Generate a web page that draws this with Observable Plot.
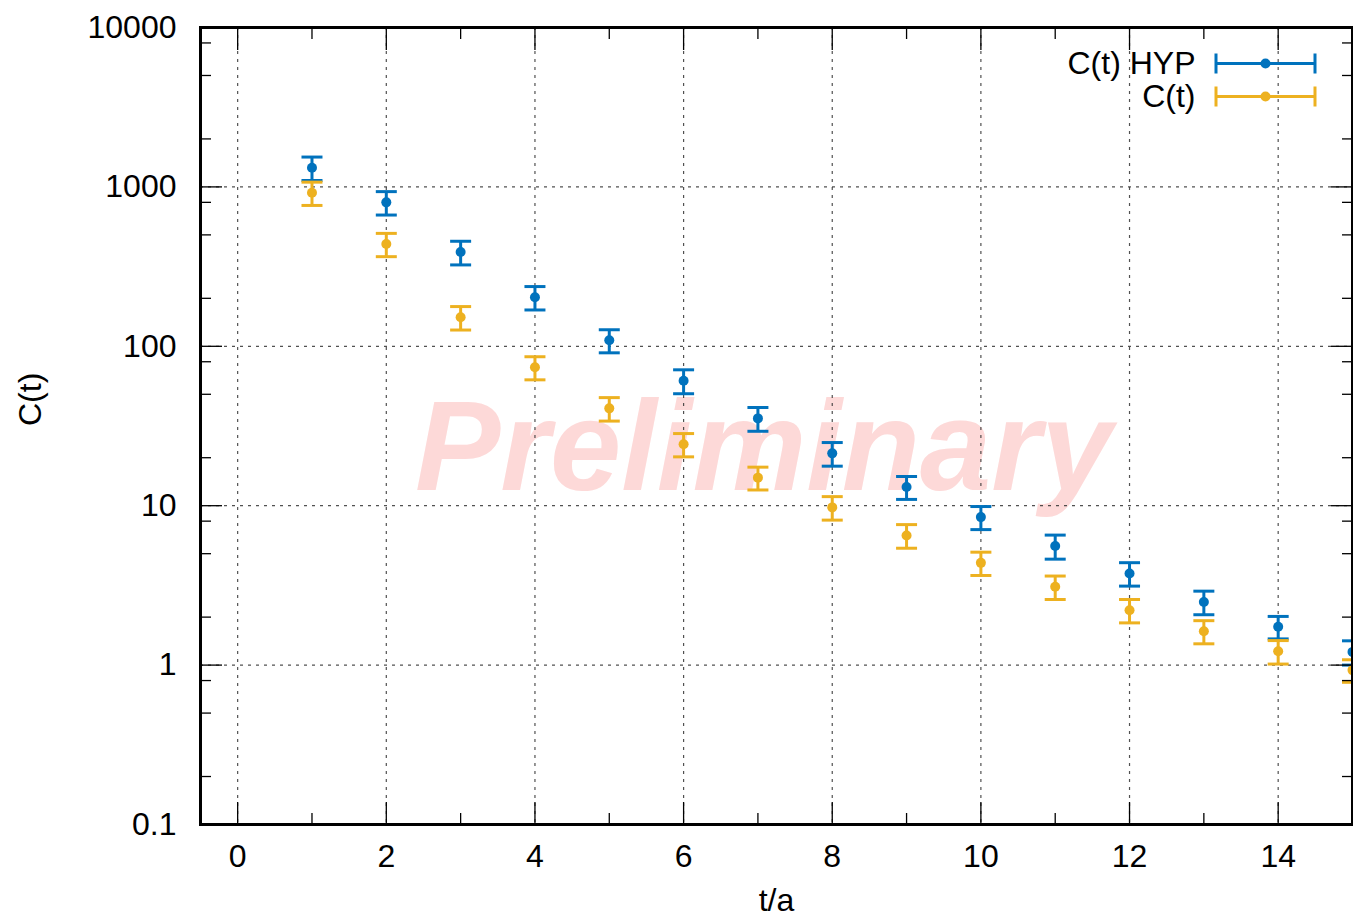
<!DOCTYPE html>
<html>
<head>
<meta charset="utf-8">
<script src="https://cdn.jsdelivr.net/npm/d3@7"></script>
<script src="https://cdn.jsdelivr.net/npm/@observablehq/plot@0.6"></script>
<style>
  body { margin: 0; background: #fff; }
  #chart svg { display: block; }
</style>
</head>
<body>
<div id="chart"></div>
<script>
// ---- data ----
const tValues = [1, 2, 3, 4, 5, 6, 7, 8, 9, 10, 11, 12, 13, 14, 15];
const hypValues = [1318, 800, 390, 203, 109, 60.8, 35.3, 21.3, 13.1, 8.48, 5.58, 3.76, 2.49, 1.74, 1.21];
const hypErrors = [221, 134, 66, 34, 18, 10.4, 6.0, 3.6, 2.15, 1.4, 0.96, 0.63, 0.42, 0.28, 0.21];
const plainValues = [918, 438, 152, 73.8, 40.8, 24.3, 15.0, 9.76, 6.51, 4.38, 3.10, 2.21, 1.63, 1.22, 0.93];
const plainErrors = [153, 73, 25.5, 12.2, 6.85, 4.05, 2.45, 1.64, 1.1, 0.73, 0.52, 0.37, 0.27, 0.205, 0.15];
const seriesNames = ["C(t) HYP", "C(t)"];
const seriesColors = ["#0072bd", "#edb120"];
const xTickValues = [0, 2, 4, 6, 8, 10, 12, 14];
const xMinorTickValues = [1, 3, 5, 7, 9, 11, 13];
const yTickValues = [0.1, 1, 10, 100, 1000, 10000];
const yTickLabels = ["0.1", "1", "10", "100", "1000", "10000"];
const yMinorFactors = [2, 5, 8];
const xLabel = "t/a";
const yLabel = "C(t)";
const watermark = "Preliminary";

// ---- derived tables ----
const seriesValues = [hypValues, plainValues];
const seriesErrors = [hypErrors, plainErrors];
const tables = seriesNames.map((name, s) => tValues.map((t, i) => ({
  series: name,
  t,
  v: seriesValues[s][i],
  lo: seriesValues[s][i] - seriesErrors[s][i],
  hi: seriesValues[s][i] + seriesErrors[s][i]
})));
const yMinorTickValues = yTickValues.slice(0, -1).flatMap(d => yMinorFactors.map(f => +(d * f).toPrecision(6)));

const FONT = "'Liberation Sans', Arial, Helvetica, sans-serif";
const FS = 32;
const capSymbol = { draw(ctx) { ctx.moveTo(-10.5, 0); ctx.lineTo(10.5, 0); } };
const legendSymbol = { draw(ctx) {
  ctx.moveTo(-49.5, 0); ctx.lineTo(49.5, 0);
  ctx.moveTo(-49.5, -10); ctx.lineTo(-49.5, 10);
  ctx.moveTo(49.5, -10); ctx.lineTo(49.5, 10);
} };

const seriesMarks = tables.flatMap((rows, s) => [
  Plot.ruleX(rows, { x: "t", y1: "lo", y2: "hi", stroke: seriesColors[s], strokeWidth: 3, clip: "frame" }),
  Plot.dot(rows, { x: "t", y: "hi", symbol: capSymbol, fill: "none", stroke: seriesColors[s], strokeWidth: 3, clip: "frame" }),
  Plot.dot(rows, { x: "t", y: "lo", symbol: capSymbol, fill: "none", stroke: seriesColors[s], strokeWidth: 3, clip: "frame" }),
  Plot.dot(rows, { x: "t", y: "v", r: 5, fill: seriesColors[s], stroke: "none", clip: "frame" })
]);

const legendMarks = seriesNames.flatMap((name, s) => [
  Plot.text([name], { text: d => d, frameAnchor: "top-right", dx: -157, dy: 36 + s * 33, textAnchor: "end", lineAnchor: "middle", fontSize: FS, fill: "black" }),
  Plot.dot([name], { frameAnchor: "top-right", dx: -87, dy: 36 + s * 33, symbol: legendSymbol, fill: "none", stroke: seriesColors[s], strokeWidth: 3 }),
  Plot.dot([name], { frameAnchor: "top-right", dx: -87, dy: 36 + s * 33, r: 5, fill: seriesColors[s], stroke: "none" })
]);

const chart = Plot.plot({
  width: 1353,
  height: 920,
  marginLeft: 200,
  marginRight: 1,
  marginTop: 27,
  marginBottom: 96,
  style: { fontFamily: FONT, fontSize: FS + "px", color: "black", background: "white" },
  x: { domain: [-0.5, 15] },
  y: { type: "log", domain: [0.1, 10000] },
  marks: [
    Plot.text([watermark], { text: d => d, frameAnchor: "middle", dx: -13, dy: 23, fontSize: 128, fontWeight: "bold", fontStyle: "italic", fill: "#fdd9d8", fontFamily: FONT }),
    Plot.gridX(xTickValues, { stroke: "#333", strokeOpacity: 0.85, strokeWidth: 1.2, strokeDasharray: "3,5" }),
    Plot.gridY(yTickValues.slice(1, -1), { stroke: "#333", strokeOpacity: 0.85, strokeWidth: 1.2, strokeDasharray: "3,5" }),
    ...seriesMarks,
    // tick labels
    Plot.axisX({ ticks: xTickValues, tickSize: 0, tickPadding: 20, fontSize: FS, label: null }),
    Plot.axisY({ ticks: yTickValues, tickFormat: d => yTickLabels[yTickValues.indexOf(d)], tickSize: 0, tickPadding: 24, fontSize: FS, label: null }),
    // inward major/minor ticks, mirrored
    Plot.axisX({ anchor: "bottom", ticks: xTickValues, tickSize: -22, fill: "none", label: null, strokeWidth: 1.3 }),
    Plot.axisX({ anchor: "top", ticks: xTickValues, tickSize: -22, fill: "none", label: null, strokeWidth: 1.3 }),
    Plot.axisX({ anchor: "bottom", ticks: xMinorTickValues, tickSize: -11, fill: "none", label: null, strokeWidth: 1.3 }),
    Plot.axisX({ anchor: "top", ticks: xMinorTickValues, tickSize: -11, fill: "none", label: null, strokeWidth: 1.3 }),
    Plot.axisY({ anchor: "left", ticks: yTickValues, tickSize: -22, fill: "none", label: null, strokeWidth: 1.3 }),
    Plot.axisY({ anchor: "right", ticks: yTickValues, tickSize: -22, fill: "none", label: null, strokeWidth: 1.3 }),
    Plot.axisY({ anchor: "left", ticks: yMinorTickValues, tickSize: -11, fill: "none", label: null, strokeWidth: 1.3 }),
    Plot.axisY({ anchor: "right", ticks: yMinorTickValues, tickSize: -11, fill: "none", label: null, strokeWidth: 1.3 }),
    // axis titles
    Plot.text([xLabel], { text: d => d, frameAnchor: "bottom", dy: 86, lineAnchor: "bottom", fontSize: FS, fill: "black" }),
    Plot.text([yLabel], { text: d => d, frameAnchor: "left", dx: -170, rotate: -90, lineAnchor: "middle", fontSize: FS, fill: "black" }),
    ...legendMarks,
    Plot.frame({ stroke: "black", strokeWidth: 3 })
  ]
});
document.getElementById("chart").appendChild(chart);
</script>
</body>
</html>
